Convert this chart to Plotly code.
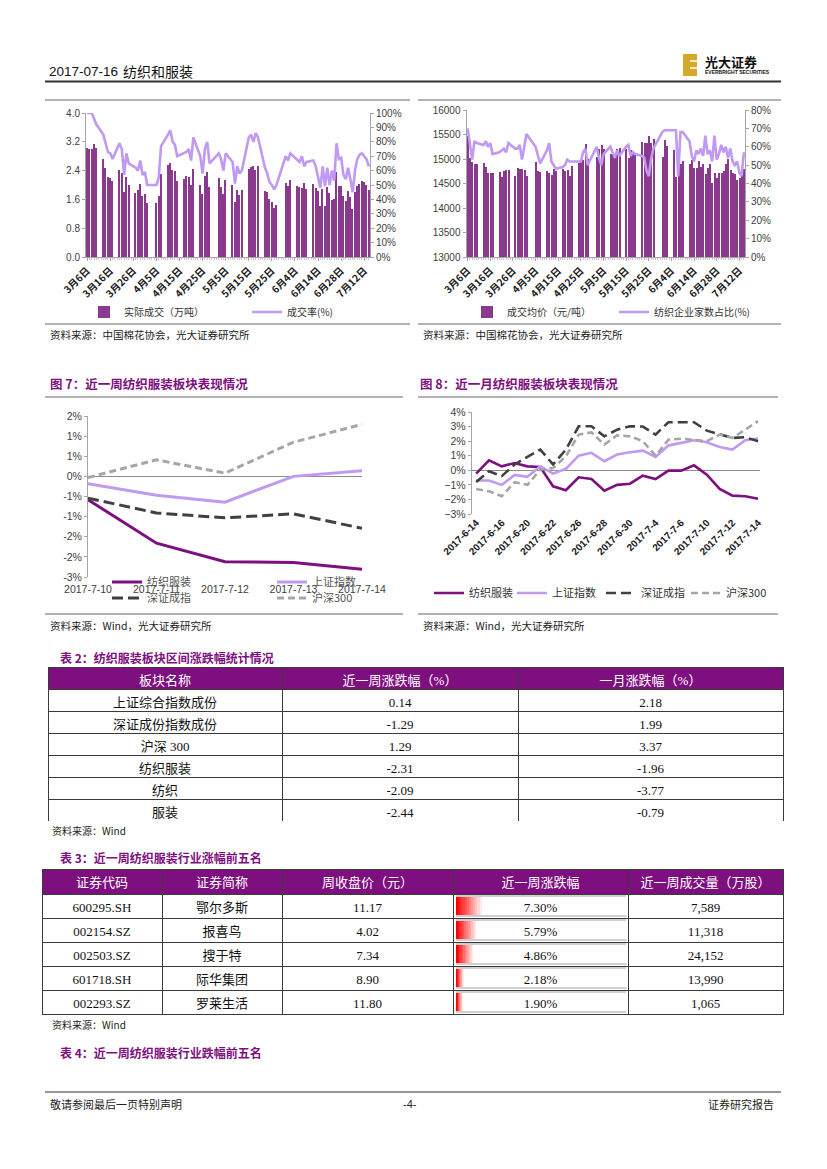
import plotly.graph_objects as go
import pandas as pd

W, H = 827, 1169
def X(p): return p / W
def Y(p): return 1 - p / H

SANS = "Liberation Sans, Noto Sans CJK SC, sans-serif"
CJK = "Noto Sans CJK SC, Liberation Sans, sans-serif"
SERIF = "Liberation Serif, Noto Sans CJK SC, serif"
PURPLE = "#7E0F7E"
BAR = "#8A3A8C"
LAV = "#BF99F2"
DARK = "#404040"
LGRAY = "#A6A6A6"
AX = "#A6A6A6"
TXT = "#404040"

# ---------------- top charts data ----------------
trade_dates = ["3-6","3-7","3-8","3-9","3-10","3-13","3-14","3-15","3-16","3-17",
               "3-20","3-21","3-22","3-23","3-24","3-27","3-28","3-29","3-30","3-31","4-1",
               "4-5","4-6","4-7","4-10","4-11","4-12","4-13","4-14","4-17","4-18","4-19","4-20","4-21",
               "4-24","4-25","4-26","4-27","4-28",
               "5-2","5-3","5-4","5-5","5-8","5-9","5-10","5-11","5-12","5-15","5-16","5-17","5-18","5-19",
               "5-22","5-23","5-24","5-25","5-26","5-27",
               "5-31","6-1","6-2","6-5","6-6","6-7","6-8","6-9","6-12","6-13",
               "6-14","6-15","6-16","6-19","6-20","6-21","6-22","6-23","6-26","6-27","6-28","6-29","6-30",
               "7-3","7-4","7-5","7-6","7-7","7-10","7-11","7-12","7-13","7-14"]
volume = [3.04, 3.01, 3.01, 3.13, 3.02, 2.73, 2.46, 2.22, 2.20, 2.10,
          2.42, 2.32, 1.80, 2.22, 1.99, 1.77, 1.86, 2.02, 1.69, 1.74, 1.49,
          1.51, 1.70, 2.30, 2.55, 2.60, 2.42, 2.38, 2.10, 2.18, 2.25, 2.22, 2.00, 2.45,
          2.00, 1.75, 2.25, 2.35, 1.95,
          2.20, 1.95, 1.75, 2.15, 2.00, 1.52, 1.85, 1.72, 1.85, 2.45, 2.50, 2.52, 2.42, 2.52,
          1.82, 1.80, 1.60, 1.52, 1.35, 1.45,
          2.05, 1.98, 2.15, 1.98, 1.95, 1.92, 2.05, 1.90, 2.02, 1.93,
          1.83, 1.43, 1.88, 1.43, 1.95, 1.77, 1.58, 1.61, 2.35, 1.97, 1.97, 1.69, 1.56,
          1.83, 1.68, 1.32, 1.80, 1.97, 2.03, 2.12, 2.07, 2.00, 1.86]
deal_rate = [100, 100, 100, 96, 92, 85, 78, 73, 72, 68,
             79, 75, 57, 72, 65, 62, 60, 67, 57, 59, 50,
             50, 55, 77, 85, 88, 80, 78, 70, 72, 73, 75, 67, 83,
             70, 58, 75, 80, 65,
             72, 68, 60, 72, 66, 51, 63, 58, 60, 83, 85, 80, 86, 83,
             62, 58, 52, 50, 47, 50,
             70, 67, 72, 68, 66, 70, 63, 66, 67, 63,
             55, 48, 63, 49, 62, 50, 60, 53, 79, 68, 69, 57, 54,
             62, 54, 45, 60, 68, 71, 72, 70, 68, 63]
avg_price = [15470, 15020, 14930, 14890, 14890, 14910, 14840, 14720, 14720, 14720,
             14730, 14630, 14750, 14770, 14770, 14650, 14820, 14800, 14800, 14770, 14660,
             14930, 14760, 14740, 14760, 14720, 14670, 14800, 14750, 14800, 14760, 14770, 14650, 14850,
             14920, 14940, 14980, 15310, 14990,
             15050, 15200, 15280, 15200, 15110, 15080, 15050, 15200, 15230, 15200, 15020, 15180, 15110, 15080,
             15350, 15320, 15330, 15460, 15320, 15400,
             15050, 15390, 15260, 15190, 14640, 15060, 14900, 14960, 14900, 14980,
             14820, 14820, 14950, 14830, 14900, 14700, 14820, 14900, 14520, 14720, 14620,
             14720, 14720, 14760, 14900, 15000, 14770, 14720, 14700, 14580, 14620, 14650, 14800]
textile_share = [70, 62, 53, 63, 62, 61, 63, 60, 62, 56,
                 57, 58, 59, 57, 62, 59, 59, 61, 53, 60, 67,
                 60, 55, 51, 58, 62, 52, 50, 48, 49, 50, 53, 52, 52,
                 52, 52, 57, 59, 50,
                 60, 54, 50, 56, 60, 57, 54, 58, 55, 60, 61, 55, 57, 56,
                 55, 54, 47, 44, 53, 59,
                 68, 69, 69, 69, 69, 44, 68, 68, 63, 55,
                 52, 58, 56, 59, 55, 66, 56, 58, 52, 66, 53,
                 56, 61, 57, 60, 54, 59, 52, 50, 52, 46, 44, 57]
tick_dates = ["3-6","3-16","3-26","4-5","4-15","4-25","5-5","5-15","5-25","6-4","6-14","6-28","7-12"]

split = trade_dates.index("6-14")
slots = [f"{d.month}-{d.day}" for d in pd.date_range("2017-03-06", "2017-06-13")] + trade_dates[split:]
xpos = [slots.index(d) for d in trade_dates]
tickpos = [slots.index(d) for d in tick_dates]
ticktext = [f"{d.split('-')[0]}月{d.split('-')[1]}日" for d in tick_dates]
nslot = len(slots)

# ---------------- fig 7 / fig 8 data ----------------
f7_dates = ["2017-7-10", "2017-7-11", "2017-7-12", "2017-7-13", "2017-7-14"]
f7_textile = [-0.58, -1.66, -2.12, -2.14, -2.31]
f7_sh = [-0.18, -0.47, -0.64, 0.00, 0.14]
f7_sz = [-0.54, -0.91, -1.03, -0.93, -1.29]
f7_hs300 = [-0.03, 0.41, 0.08, 0.85, 1.29]
f7_ticks = [-2.5, -2.0, -1.5, -1.0, -0.5, 0, 0.5, 1.0, 1.5]
f7_ticktext = ["-3%", "-2%", "-2%", "-1%", "-1%", "0%", "1%", "1%", "2%"]

f8_dates = ["6-14","6-15","6-16","6-19","6-20","6-21","6-22","6-23","6-26","6-27","6-28","6-29","6-30",
            "7-3","7-4","7-5","7-6","7-7","7-10","7-11","7-12","7-13","7-14"]
f8_textile = [-0.23, 0.69, 0.27, 0.50, 0.27, 0.23, -1.10, -1.37, -0.48, -0.60, -1.40, -1.00, -0.92,
              -0.37, -0.60, -0.02, -0.02, 0.34, -0.30, -1.28, -1.74, -1.78, -1.96]
f8_sh = [-0.70, -0.70, -1.00, -0.32, -0.45, 0.27, -0.23, 0.10, 1.00, 1.20, 0.62, 1.08, 1.24,
         1.35, 0.92, 1.70, 1.88, 2.06, 1.92, 1.60, 1.42, 2.06, 2.18]
f8_sz = [-0.80, -0.07, -0.40, 0.40, 0.92, 1.42, 0.40, 1.42, 3.02, 3.02, 2.33, 2.79, 3.02,
         3.00, 2.45, 3.30, 3.30, 3.30, 2.72, 2.45, 2.22, 2.27, 1.99]
f8_hs300 = [-1.28, -1.44, -1.78, -0.82, -1.00, 0.05, 0.15, 0.96, 2.45, 2.60, 1.76, 2.40, 2.33,
            2.00, 1.00, 2.10, 2.17, 2.06, 2.00, 2.45, 2.22, 2.79, 3.37]
f8_idx = list(range(len(f8_dates)))
f8_tickpos = f8_idx[::2]
f8_ticktext = ["2017-" + f8_dates[i] for i in f8_tickpos]

# ---------------- table data ----------------
t2_head = ["板块名称", "近一周涨跌幅（%）", "一月涨跌幅（%）"]
t2_names = ["上证综合指数成份", "深证成份指数成份", "沪深 300", "纺织服装", "纺织", "服装"]
t2_week = [0.14, -1.29, 1.29, -2.31, -2.09, -2.44]
t2_month = [2.18, 1.99, 3.37, -1.96, -3.77, -0.79]

t3_head = ["证券代码", "证券简称", "周收盘价（元）", "近一周涨跌幅", "近一周成交量（万股）"]
t3_codes = ["600295.SH", "002154.SZ", "002503.SZ", "601718.SH", "002293.SZ"]
t3_names = ["鄂尔多斯", "报喜鸟", "搜于特", "际华集团", "罗莱生活"]
t3_close = [11.17, 4.02, 7.34, 8.90, 11.80]
t3_chg = [7.30, 5.79, 4.86, 2.18, 1.90]
t3_vol = [7589, 11318, 24152, 13990, 1065]

fig = go.Figure()

# ---- top-left chart
fig.add_trace(go.Bar(x=xpos, y=volume, width=0.62, marker=dict(color=BAR, line=dict(width=0)),
                     name="实际成交（万吨）", xaxis="x", yaxis="y", legend="legend"))
fig.add_trace(go.Scatter(x=xpos, y=[v / 100 for v in deal_rate], mode="lines",
                         line=dict(color=LAV, width=2.6), name="成交率(%)",
                         xaxis="x", yaxis="y2", legend="legend2"))
# ---- top-right chart
fig.add_trace(go.Bar(x=xpos, y=avg_price, width=0.62, marker=dict(color=BAR, line=dict(width=0)),
                     name="成交均价（元/吨）", xaxis="x2", yaxis="y3", legend="legend3"))
fig.add_trace(go.Scatter(x=xpos, y=[v / 100 for v in textile_share], mode="lines",
                         line=dict(color=LAV, width=2.6), name="纺织企业家数占比(%)",
                         xaxis="x2", yaxis="y4", legend="legend4"))

# ---- fig 7
f7x = list(range(len(f7_dates)))
fig.add_trace(go.Scatter(x=f7x, y=f7_textile, mode="lines", line=dict(color=PURPLE, width=3),
                         name="纺织服装", xaxis="x3", yaxis="y5", legend="legend5"))
fig.add_trace(go.Scatter(x=f7x, y=f7_sh, mode="lines", line=dict(color=LAV, width=3),
                         name="上证指数", xaxis="x3", yaxis="y5", legend="legend6"))
fig.add_trace(go.Scatter(x=f7x, y=f7_sz, mode="lines", line=dict(color=DARK, width=3, dash="11px,5px"),
                         name="深证成指", xaxis="x3", yaxis="y5", legend="legend7"))
fig.add_trace(go.Scatter(x=f7x, y=f7_hs300, mode="lines", line=dict(color=LGRAY, width=3, dash="7px,4px"),
                         name="沪深300", xaxis="x3", yaxis="y5", legend="legend8"))

# ---- fig 8
fig.add_trace(go.Scatter(x=f8_idx, y=f8_textile, mode="lines", line=dict(color=PURPLE, width=2.6),
                         name="纺织服装", xaxis="x4", yaxis="y6", legend="legend9"))
fig.add_trace(go.Scatter(x=f8_idx, y=f8_sh, mode="lines", line=dict(color=LAV, width=2.6),
                         name="上证指数", xaxis="x4", yaxis="y6", legend="legend10"))
fig.add_trace(go.Scatter(x=f8_idx, y=f8_sz, mode="lines", line=dict(color=DARK, width=2.6, dash="10px,5px"),
                         name="深证成指", xaxis="x4", yaxis="y6", legend="legend11"))
fig.add_trace(go.Scatter(x=f8_idx, y=f8_hs300, mode="lines", line=dict(color=LGRAY, width=2.6, dash="7px,4px"),
                         name="沪深300", xaxis="x4", yaxis="y6", legend="legend12"))

# ---- tables
LINE = "#3a3a3a"
fig.add_trace(go.Table(
    domain=dict(x=[X(48), X(783)], y=[Y(821), Y(667)]),
    columnwidth=[234, 236, 265],
    header=dict(values=t2_head, fill_color=PURPLE, align="center", height=22,
                font=dict(color="white", size=13, family=SERIF), line=dict(color=LINE, width=1)),
    cells=dict(values=[t2_names, [f"{v:.2f}" for v in t2_week], [f"{v:.2f}" for v in t2_month]],
               fill_color="white", align="center", height=22,
               font=dict(color="#111", size=13, family=SERIF), line=dict(color=LINE, width=1))))

fig.add_trace(go.Table(
    domain=dict(x=[X(42), X(783)], y=[Y(1016), Y(869)]),
    columnwidth=[120, 120, 171, 175, 155],
    header=dict(values=t3_head, fill_color=PURPLE, align="center", height=25,
                font=dict(color="white", size=13, family=SERIF), line=dict(color=LINE, width=1)),
    cells=dict(values=[t3_codes, t3_names, [f"{v:.2f}" for v in t3_close],
                       [f"{v:.2f}%" for v in t3_chg], [f"{v:,}" for v in t3_vol]],
               fill=dict(color=[["white"] * 5, ["white"] * 5, ["white"] * 5,
                                ["rgba(0,0,0,0)"] * 5, ["white"] * 5]),
               align="center", height=24,
               font=dict(color="#111", size=13, family=SERIF), line=dict(color=LINE, width=1))))

# ---- data bars (gradient approximation by layered bars)
N = 12
for k in range(N):
    frac = 1 - k / N
    t = k / (N - 1)
    g = int(235 * (1 - t))
    fig.add_trace(go.Bar(x=[v * frac for v in t3_chg], y=list(range(len(t3_chg))), orientation="h",
                         width=0.8, marker=dict(color=f"rgb(255,{g},{g})", line=dict(width=0)),
                         showlegend=False, hoverinfo="skip", xaxis="x5", yaxis="y7"))

axfont = dict(size=10, family=SANS, color=TXT)
tickx = dict(size=10, family=CJK, color="#1a1a1a", weight="bold")
common_y = dict(showline=True, linecolor=AX, linewidth=1, ticks="outside", ticklen=3, tickcolor=AX,
                showgrid=False, zeroline=False, tickfont=axfont)

def leg(xpx, ypx, size=10, color="#333"):
    return dict(x=X(xpx), y=Y(ypx), xanchor="left", yanchor="middle", orientation="h",
                font=dict(size=size, family=CJK, color=color), bgcolor="rgba(0,0,0,0)")

fig.update_layout(
    width=W, height=H, margin=dict(l=0, r=0, t=0, b=0, pad=0, autoexpand=False),
    paper_bgcolor="white", plot_bgcolor="rgba(0,0,0,0)",
    barmode="overlay", bargap=0, showlegend=True,
    xaxis=dict(domain=[X(86), X(370)], anchor="y", range=[-0.5, nslot - 0.5],
               tickmode="array", tickvals=tickpos, ticktext=ticktext, tickangle=-45, tickfont=tickx,
               showline=True, linecolor=AX, ticks="outside", ticklen=3, tickcolor=AX, showgrid=False,
               minor=dict(ticks="outside", ticklen=2, dtick=1, tick0=0, tickcolor="#C8C8C8")),
    yaxis=dict(domain=[Y(257), Y(113)], anchor="x", range=[0, 4], tickmode="array",
               tickvals=[0, 0.8, 1.6, 2.4, 3.2, 4.0], ticktext=["0.0", "0.8", "1.6", "2.4", "3.2", "4.0"],
               **common_y),
    yaxis2=dict(overlaying="y", side="right", anchor="x", range=[0, 1], dtick=0.1, tickformat=".0%",
                **common_y),
    xaxis2=dict(domain=[X(466.5), X(745)], anchor="y3", range=[-0.5, nslot - 0.5],
                tickmode="array", tickvals=tickpos, ticktext=ticktext, tickangle=-45, tickfont=tickx,
                showline=True, linecolor=AX, ticks="outside", ticklen=3, tickcolor=AX, showgrid=False,
                minor=dict(ticks="outside", ticklen=2, dtick=1, tick0=0, tickcolor="#C8C8C8")),
    yaxis3=dict(domain=[Y(257), Y(110)], anchor="x2", range=[13000, 16000], dtick=500, tickformat="d",
                **common_y),
    yaxis4=dict(overlaying="y3", side="right", anchor="x2", range=[0, 0.8], dtick=0.1, tickformat=".0%",
                **common_y),
    xaxis3=dict(domain=[X(88), X(362)], anchor="y5", range=[0, 4], tickmode="array", tickvals=f7x,
                ticktext=f7_dates, showline=False, ticks="", showgrid=False, zeroline=False,
                ticklabelstandoff=4, tickfont=dict(size=10.5, family=SANS, color=TXT)),
    yaxis5=dict(domain=[Y(577), Y(416)], anchor="x3", range=[-2.5, 1.5], tickmode="array",
                tickvals=f7_ticks, ticktext=f7_ticktext, showline=True, linecolor=AX, ticks="outside",
                ticklen=3, tickcolor=AX, showgrid=False, zeroline=True, zerolinecolor="#8C8C8C",
                zerolinewidth=1, tickfont=dict(size=10.5, family=SANS, color=TXT)),
    xaxis4=dict(domain=[X(471.7), X(760)], anchor="y6", range=[-0.35, 22.15], tickmode="array",
                tickvals=f8_tickpos, ticktext=f8_ticktext, tickangle=-45, showline=False, ticks="",
                showgrid=False, zeroline=False, tickfont=dict(size=10, family=SANS, color="#1a1a1a", weight="bold")),
    yaxis6=dict(domain=[Y(514), Y(412)], anchor="x4", range=[-3, 4], dtick=1, ticksuffix="%",
                showline=True, linecolor=AX, ticks="outside", ticklen=3, tickcolor=AX, showgrid=False,
                zeroline=True, zerolinecolor="#8C8C8C", zerolinewidth=1,
                tickfont=dict(size=10.5, family=SANS, color=TXT)),
    xaxis5=dict(domain=[X(456), X(626)], anchor="y7", range=[0, 48.3], visible=False, fixedrange=True),
    yaxis7=dict(domain=[Y(1014), Y(894)], anchor="x5", range=[4.5, -0.5], visible=False),
    legend=leg(84, 312), legend2=leg(247, 312),
    legend3=leg(467, 312), legend4=leg(614, 312),
    legend5=leg(107, 582, 11, "#555"), legend6=leg(272, 582, 11, "#555"),
    legend7=leg(107, 598, 11, "#555"), legend8=leg(272, 598, 11, "#555"),
    legend9=leg(429, 593, 11), legend10=leg(512, 593, 11),
    legend11=leg(601, 593, 11), legend12=leg(686, 593, 11),
)

# ---- page furniture: lines
shapes = []
def hline(x0, x1, y, color="#555", width=1):
    shapes.append(dict(type="line", xref="paper", yref="paper", x0=X(x0), x1=X(x1), y0=Y(y), y1=Y(y),
                       line=dict(color=color, width=width)))
hline(45, 781, 81.5, "#333", 2)
hline(45, 410, 100, "#666", 1.2); hline(418, 781, 100, "#666", 1.2)
hline(45, 410, 324, "#666", 1.2); hline(418, 781, 324, "#666", 1.2)
hline(45, 403, 397, "#666", 1.2); hline(418, 778, 397, "#666", 1.2)
hline(45, 403, 614, "#666", 1.2); hline(418, 778, 614, "#666", 1.2)
hline(45, 781, 1092, "#333", 1.2)
# light grey frame lines inside the data-bar column
for r in range(len(t3_chg)):
    top = 894 + 24 * r
    hline(456, 626, top + 2, "#CFCFCF", 2)
    hline(456, 626, top + 22, "#CFCFCF", 2)
# logo block
shapes.append(dict(type="rect", xref="paper", yref="paper", x0=X(683), x1=X(697), y0=Y(76), y1=Y(54),
                   fillcolor="#D6A829", line=dict(width=0)))
for yy in (61, 68):
    shapes.append(dict(type="line", xref="paper", yref="paper", x0=X(690), x1=X(697), y0=Y(yy), y1=Y(yy),
                       line=dict(color="white", width=1.5)))
fig.update_layout(shapes=shapes)

ann = []
def txt(x, y, s, size=11, color="#222", family=CJK, xanchor="left", bold=False):
    ann.append(dict(x=X(x), y=Y(y), xref="paper", yref="paper", text=(f"<b>{s}</b>" if bold else s),
                    showarrow=False, xanchor=xanchor, yanchor="middle",
                    font=dict(size=size, color=color, family=family)))
txt(47, 71, "2017-07-16", 13.5, "#111", SANS)
txt(121, 71, "纺织和服装", 14, "#111", CJK)
txt(703, 61, "光大证券", 13, "#111", CJK, bold=True)
txt(703, 72, "EVERBRIGHT SECURITIES", 5, "#111", SANS, bold=True)
src1 = "资料来源：中国棉花协会，光大证券研究所"
txt(48, 335, src1, 10.5, "#222"); txt(421, 335, src1, 10.5, "#222")
txt(48, 384, "图 7：近一周纺织服装板块表现情况", 12.5, PURPLE, bold=True)
txt(418, 384, "图 8：近一月纺织服装板块表现情况", 12.5, PURPLE, bold=True)
src2 = "资料来源：Wind，光大证券研究所"
txt(48, 625, src2, 10.5, "#222"); txt(421, 625, src2, 10.5, "#222")
txt(58, 657, "表 2：纺织服装板块区间涨跌幅统计情况", 12, PURPLE, bold=True)
txt(50, 830, "资料来源：Wind", 10, "#222")
txt(58, 857, "表 3：近一周纺织服装行业涨幅前五名", 12, PURPLE, bold=True)
txt(50, 1024, "资料来源：Wind", 10, "#222")
txt(58, 1052, "表 4：近一周纺织服装行业跌幅前五名", 12, PURPLE, bold=True)
txt(48, 1104, "敬请参阅最后一页特别声明", 11, "#222")
txt(410, 1104, "-4-", 11, "#222", SANS, xanchor="center")
txt(776, 1104, "证券研究报告", 11, "#222", xanchor="right")
fig.update_layout(annotations=ann)

fig.write_html("out.html", config={"displayModeBar": False},
               post_script="document.body.style.margin='0px';")
